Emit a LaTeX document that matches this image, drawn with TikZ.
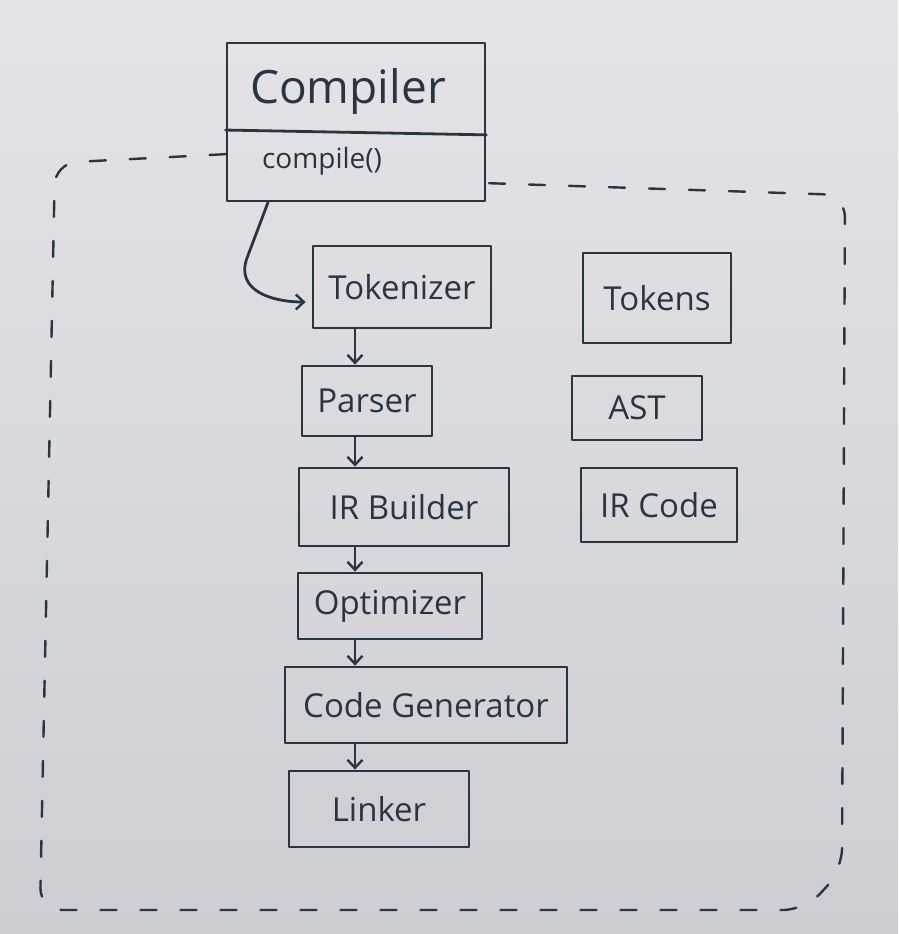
\documentclass[tikz,border=0pt]{standalone}
\usepackage{fontspec}
\setmainfont{Open Sans}
\usetikzlibrary{arrows.meta,calc}
\definecolor{ink}{HTML}{2B3542}
\definecolor{boardtop}{HTML}{E4E4E8}
\definecolor{boardbot}{HTML}{CDCED3}
\begin{document}
\begin{tikzpicture}[x=1pt,y=-1pt,
  ink line/.style={draw=ink, line width=2.8pt, line cap=round, line join=round},
  box/.style={ink line, rectangle, inner sep=0pt, text=ink, font=\fontsize{33}{35}\selectfont},
  label text/.style={text=ink, inner sep=0pt},
  arr/.style={ink line, -{Straight Barb[length=8pt,width=15pt,line width=2.4pt]}},
  frame/.style={draw=ink, line width=2.4pt, dash pattern=on 16pt off 24pt, line cap=round, rounded corners=22pt}
]
\useasboundingbox (0,0) rectangle (898,934);
\shade[top color=boardtop, bottom color=boardbot] (0,0) rectangle (898,934);

% Compiler class box
\node[box, minimum width=258pt, minimum height=158pt] (comp) at (356,122) {};
\draw[ink line] ($(comp.north west)!0.55!(comp.south west)$) -- ($(comp.north east)!0.58!(comp.south east)$);
\node[label text, font=\fontsize{46}{48}\selectfont] (comptitle) at (348,92) {Compiler};
\node[label text, font=\fontsize{28}{30}\selectfont] (compop) at (322,161) {compile()};

% pipeline
\node[box, minimum width=178pt, minimum height=82pt] (tok) at (402,287) {Tokenizer};
\node[box, minimum width=130pt, minimum height=70pt] (parser) at (367,401) {Parser};
\node[box, minimum width=210pt, minimum height=78pt] (irb) at (404,507) {IR Builder};
\node[box, minimum width=184pt, minimum height=66pt] (opt) at (390,606) {Optimizer};
\node[box, minimum width=282pt, minimum height=76pt] (cg) at (426,705) {Code Generator};
\node[box, minimum width=180pt, minimum height=76pt] (link) at (379,809) {Linker};

% data boxes
\node[box, minimum width=148pt, minimum height=90pt] (tokens) at (657,298) {Tokens};
\node[box, minimum width=130pt, minimum height=64pt] (ast) at (637,408) {AST};
\node[box, minimum width=156pt, minimum height=74pt] (irc) at (659,505) {IR Code};

% arrows
\coordinate (spine) at (355,0);
\coordinate (callx) at (268,0);
\draw[arr] (comp.south -| callx) -- (247,258) to[out=-110,in=180,looseness=1.2] ([yshift=-15pt, xshift=-6pt]tok.west);
\draw[arr] (tok.south -| spine) -- (parser.north -| spine);
\draw[arr] (parser.south -| spine) -- (irb.north -| spine);
\draw[arr] (irb.south -| spine) -- (opt.north -| spine);
\draw[arr] (opt.south -| spine) -- (cg.north -| spine);
\draw[arr] (cg.south -| spine) -- (link.north -| spine);

% dashed boundary
\draw[frame] ($(comp.north west)!0.70!(comp.south west)$) -- (55,163) -- (40,910) -- (805,910) -- (842,870) -- (845,195) -- ($(comp.north east)!0.88!(comp.south east)$);
\end{tikzpicture}
\end{document}
